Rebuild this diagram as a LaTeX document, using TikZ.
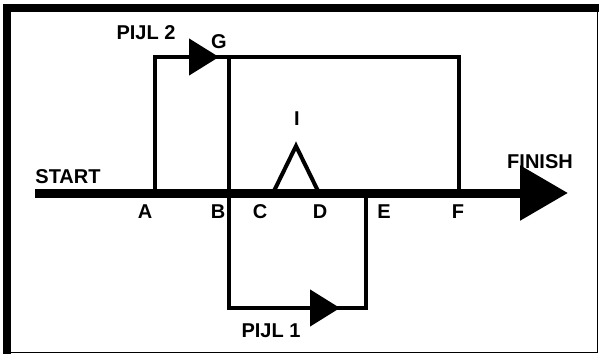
\documentclass[tikz,border=0pt]{standalone}
\usepackage{fontspec}
\setmainfont{Liberation Sans}
\usetikzlibrary{arrows.meta,positioning}

\begin{document}
\begin{tikzpicture}[x=1pt,y=-1pt,
  lbl/.style={font=\fontsize{20}{20}\selectfont\bfseries,inner sep=0pt},
  track/.style={line width=4.5pt},
  mainline/.style={line width=9pt},
  bigarrow/.style={-{Triangle[length=48pt,width=53pt]}},
  smallarrow/.style={-{Triangle[length=30pt,width=36pt]}}
]
  \useasboundingbox (0,0) rectangle (599,356);
  % frame
  \draw[line width=1.5pt] (7,8) rectangle (597.5,352.5);
  \draw[line width=8pt] (7,353.5) -- (7,8) -- (598.5,8);

  % points
  \coordinate (S) at (35,193);
  \coordinate (A) at (155,193);
  \coordinate (B) at (229,193);
  \coordinate (C) at (273,193);
  \coordinate (I) at (296,146);
  \coordinate (D) at (319,193);
  \coordinate (E) at (366,193);
  \coordinate (F) at (459,193);
  \coordinate (Fin) at (568,193);
  \coordinate (G) at (229,57);
  \coordinate (P2) at (219,57);
  \coordinate (Q1) at (229,308);
  \coordinate (P1) at (340,308);

  % tracks
  \draw[track] (A) |- (G) -| (F);
  \draw[track] (G) -- (Q1) -| (E);
  \draw[track,smallarrow] (A) |- (P2);
  \draw[track,smallarrow] (Q1) -- (P1);
  \draw[track,line width=4pt] (C) -- (I) -- (D);
  \draw[mainline,bigarrow] (S) -- (Fin);

  % labels
  \node[lbl] (start) at (68,177) {START};
  \node[lbl] (finish) at (540,162) {FINISH};
  \node[lbl] (pijl2) at (146,33) {PIJL 2};
  \node[lbl] (pijl1) at (271,331) {PIJL 1};
  \node[lbl] (lg) at (219,42) {G};
  \node[lbl] (li) at (297,119) {I};
  \node[lbl] (la) at (145,212) {A};
  \node[lbl] (lb) at (218,212) {B};
  \node[lbl] (lc) at (260,212) {C};
  \node[lbl] (ld) at (320,212) {D};
  \node[lbl] (le) at (384,212) {E};
  \node[lbl] (lf) at (458,212) {F};
\end{tikzpicture}
\end{document}
